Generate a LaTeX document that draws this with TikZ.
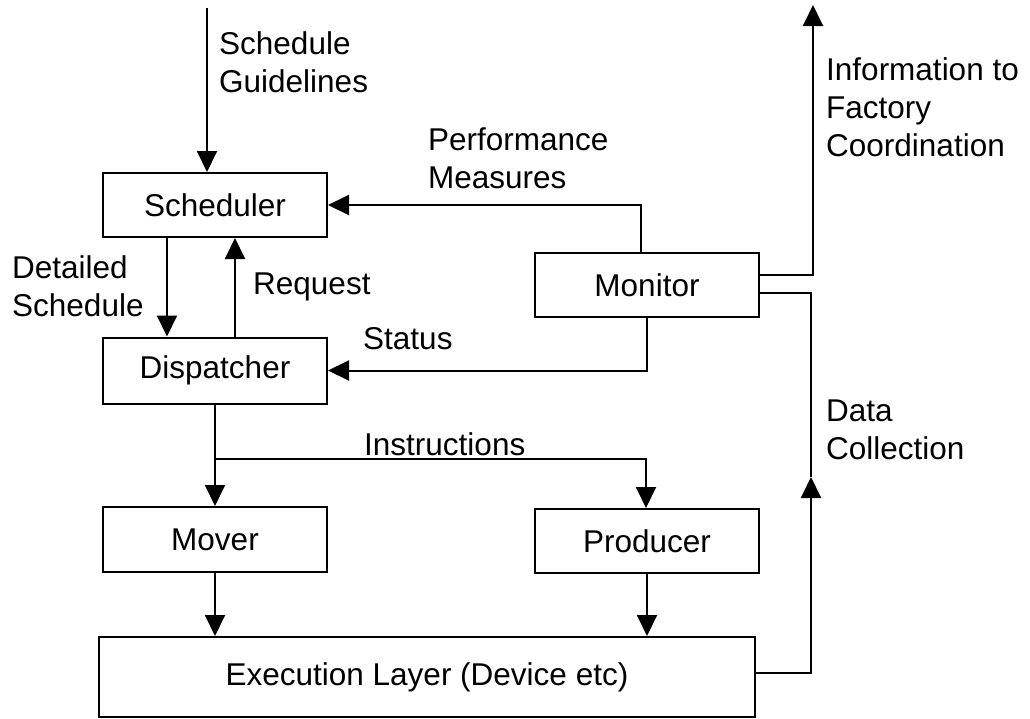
\documentclass[tikz,border=0pt]{standalone}
\usepackage{fontspec}
\setmainfont{Liberation Sans}
\usetikzlibrary{arrows.meta}
\begin{document}
\begin{tikzpicture}[x=1pt,y=-1pt,
  every node/.style={font=\fontsize{31.5}{38}\selectfont},
  block/.style={draw,line width=2pt,minimum width=224pt,minimum height=64pt,inner sep=0pt},
  lbl/.style={anchor=north west,inner sep=0pt,align=left},
  conn/.style={line width=2pt},
  arr/.style={conn,-{Triangle[length=21pt,width=20pt]}}]
\useasboundingbox (0,0) rectangle (1030,718);

% blocks
\node[block] (sch) at (215,205) {Scheduler};
\node[block,minimum height=66pt] (dis) at (215,370.5) {Dispatcher};
\node[block] (mon) at (647,285) {Monitor};
\node[block,minimum height=65pt] (mov) at (215,539.5) {Mover};
\node[block] (pro) at (647,541) {Producer};
\node[block,minimum width=656pt,minimum height=80pt] (exe) at (427,677) {Execution Layer (Device etc)};

% free ends and bends
\coordinate (sgtop) at (207,8);
\coordinate (info) at (813,5);
\coordinate (dc) at (811,477);
\coordinate (br) at (215,459);

% connectors
\draw[arr] (sgtop) -- (sgtop |- sch.north);
\draw[arr] ([xshift=-48pt]sch.south) -- ([xshift=-48pt]dis.north);
\draw[arr] ([xshift=20pt]dis.north) -- ([xshift=20pt]sch.south);
\draw[arr] ([xshift=-6pt]mon.north) |- (sch.east);
\draw[arr] (mon.south) |- (dis.east);
\draw[arr] ([yshift=10pt]mon.east) -| (info);
\draw[arr] ([yshift=4pt]exe.east) -| (dc);
\draw[conn] (dc) |- ([yshift=-8pt]mon.east);
\draw[arr] (dis.south) -- (mov.north);
\draw[arr] (br) -| ([xshift=-1pt]pro.north);
\draw[arr] (mov.south) -- (mov.south |- exe.north);
\draw[arr] (pro.south) -- (pro.south |- exe.north);

% connector labels
\node[lbl] (lsg) at (219,31) {Schedule\\Guidelines};
\node[lbl] (lpm) at (428,128) {Performance\\Measures};
\node[lbl] (lif) at (826,57) {Information to\\Factory\\Coordination};
\node[lbl] (lds) at (12,255) {Detailed\\Schedule};
\node[lbl] (lrq) at (253,273) {Request};
\node[lbl] (lst) at (363,327) {Status};
\node[lbl] (lin) at (364,432) {Instructions};
\node[lbl] (ldc) at (826,400) {Data\\Collection};
\end{tikzpicture}
\end{document}
